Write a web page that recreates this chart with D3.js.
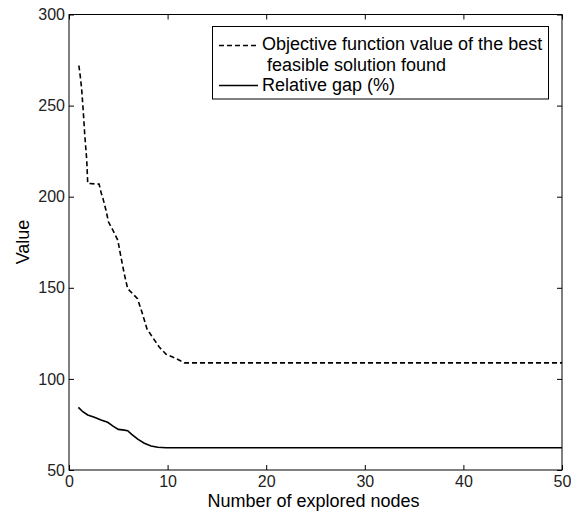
<!DOCTYPE html>
<html><head><meta charset="utf-8">
<script src="https://cdn.jsdelivr.net/npm/d3@7"></script>
<style>body{margin:0;background:#fff}svg{display:block}</style>
</head><body>
<script>
const objX = [1.0,1.15,1.28,1.45,1.6,1.8,1.9,3.05,3.28,3.4,3.75,4.0,4.45,4.95,5.27,5.6,5.95,6.45,6.95,7.45,7.9,8.45,9.15,9.85,10.7,11.7,50];
const objY = [272,265.8,259.4,246.6,233.8,220,207.3,206.9,201.8,200,192.6,186.2,181.6,176.1,166.9,157.8,149.5,146.8,144,135.8,127.6,123,117.5,113.5,111.6,108.8,108.8];
const gapX = [0.95,1.4,1.9,2.57,3.25,3.92,4.43,5.0,5.45,5.95,6.36,6.97,7.64,8.32,9.0,9.84,50];
const gapY = [84.4,82,80.2,79,77.5,76.2,74.2,72.3,72,71.6,69.6,66.9,64.7,63.2,62.5,62.2,62.2];
const xTicks = [0,10,20,30,40,50];
const yTicks = [50,100,150,200,250,300];
const legendLabels = [["Objective function value of the best"," feasible solution found"],["Relative gap (%)"]];

const W=571,H=511;
const m={l:69,r:562,t:14.5,b:470};
const svg=d3.select("body").append("svg").attr("width",W).attr("height",H);
const x=d3.scaleLinear().domain([0,50]).range([m.l,m.r]);
const y=d3.scaleLinear().domain([50,300]).range([m.b,m.t]);
const font="Liberation Sans, Arial, sans-serif";
const tl=5;

function styleAxis(g){
  g.select(".domain").remove();
  g.selectAll("line").attr("stroke","#000").attr("stroke-width",1);
  g.selectAll("text").attr("font-family",font).attr("font-size",16).attr("fill","#222");
}
svg.append("g").attr("transform",`translate(0,${m.b})`)
  .call(d3.axisBottom(x).tickValues(xTicks).tickSizeInner(-tl).tickSizeOuter(0).tickPadding(6))
  .call(styleAxis);
svg.append("g").attr("transform",`translate(0,${m.t})`)
  .call(d3.axisTop(x).tickValues(xTicks).tickSizeInner(-tl).tickSizeOuter(0).tickFormat(""))
  .call(styleAxis);
svg.append("g").attr("transform",`translate(${m.l},0)`)
  .call(d3.axisLeft(y).tickValues(yTicks).tickSizeInner(-tl).tickSizeOuter(0).tickPadding(4))
  .call(styleAxis);
svg.append("g").attr("transform",`translate(${m.r},0)`)
  .call(d3.axisRight(y).tickValues(yTicks).tickSizeInner(-tl).tickSizeOuter(0).tickFormat(""))
  .call(styleAxis);
svg.append("rect").attr("x",m.l).attr("y",m.t).attr("width",m.r-m.l).attr("height",m.b-m.t)
  .attr("fill","none").attr("stroke","#000").attr("stroke-width",1);

const line=d3.line().x(d=>x(d[0])).y(d=>y(d[1]));
svg.append("path").datum(objX.map((v,i)=>[v,objY[i]])).attr("d",line)
  .attr("fill","none").attr("stroke","#000").attr("stroke-width",1.6).attr("stroke-dasharray","5,3");
svg.append("path").datum(gapX.map((v,i)=>[v,gapY[i]])).attr("d",line)
  .attr("fill","none").attr("stroke","#000").attr("stroke-width",1.6);

// legend
const lg=svg.append("g");
lg.append("rect").attr("x",212.5).attr("y",26.5).attr("width",336).attr("height",72.5)
  .attr("fill","#fff").attr("stroke","#000").attr("stroke-width",1);
lg.append("line").attr("x1",219).attr("x2",256).attr("y1",45.5).attr("y2",45.5)
  .attr("stroke","#000").attr("stroke-width",1.6).attr("stroke-dasharray","5,3");
lg.append("line").attr("x1",219).attr("x2",258).attr("y1",85.5).attr("y2",85.5)
  .attr("stroke","#000").attr("stroke-width",1.6);
const t1=lg.append("text").attr("font-family",font).attr("font-size",18).attr("fill","#000").attr("xml:space","preserve");
t1.append("tspan").attr("x",262).attr("y",50).text(legendLabels[0][0]);
t1.append("tspan").attr("x",262).attr("y",70.5).text(legendLabels[0][1]);
lg.append("text").attr("x",262).attr("y",91).attr("font-family",font).attr("font-size",18).attr("fill","#000").text(legendLabels[1][0]);

svg.append("text").attr("x",313.5).attr("y",507).attr("text-anchor","middle")
  .attr("font-family",font).attr("font-size",18).text("Number of explored nodes");
svg.append("text").attr("transform","translate(29,242) rotate(-90)").attr("text-anchor","middle")
  .attr("font-family",font).attr("font-size",18).text("Value");
</script>
</body></html>
